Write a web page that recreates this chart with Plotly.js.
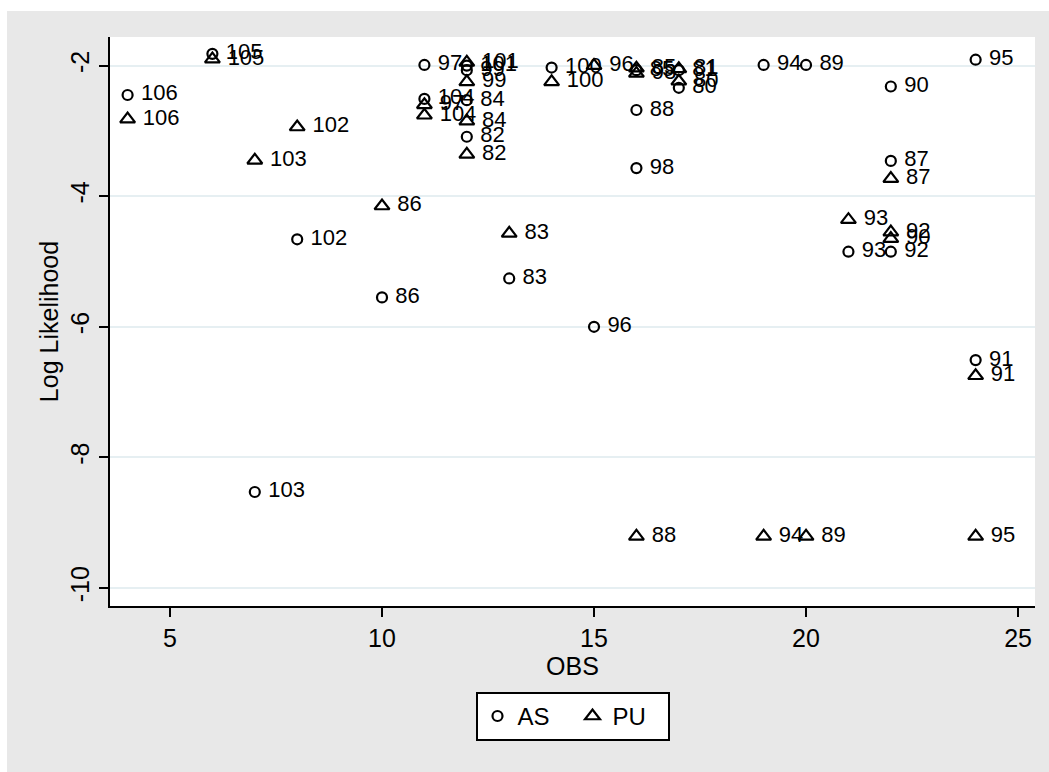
<!DOCTYPE html>
<html>
<head>
<meta charset="utf-8">
<script src="https://cdn.plot.ly/plotly-3.0.1.min.js"></script>
<style>
html,body{margin:0;padding:0;background:#ffffff;overflow:hidden;width:1049px;height:772px;}
#bg{position:absolute;left:7px;top:11px;width:1100px;height:820px;background:#e8e8e8;}
#chart{position:absolute;left:7px;top:11px;width:1041px;height:761px;}
</style>
</head>
<body>
<div id="bg"></div>
<div id="chart"></div>
<script>
// Year labels (observation id)
var years = [80,81,82,83,84,85,86,87,88,89,90,91,92,93,94,95,96,97,98,99,100,101,102,103,104,105,106];
// OBS (x) for each year
var obs = [17,17,12,13,12,16,10,22,16,20,22,24,22,21,19,24,15,11,16,12,14,12,8,7,11,6,4];
// AS log likelihood
var asLL = [-2.34,-2.07,-3.09,-5.26,-2.53,-2.07,-5.55,-3.46,-2.68,-1.99,-2.32,-6.51,-4.85,-4.85,-1.99,-1.91,-6.00,-1.99,-3.57,-2.07,-2.03,-2.00,-4.66,-8.53,-2.51,-1.82,-2.45];
// PU log likelihood
var puLL = [-2.24,-2.05,-3.36,-4.57,-2.85,-2.04,-4.15,-3.73,-9.21,-9.21,-4.65,-6.75,-4.55,-4.36,-9.21,-9.21,-2.00,-2.60,-2.12,-2.25,-2.25,-1.95,-2.94,-3.45,-2.76,-1.90,-2.82];
// Axis ticks
var xTicks = [5,10,15,20,25];
var yTicks = [-10,-8,-6,-4,-2];

var FONT = "Liberation Sans, Arial, sans-serif";
var labels = years.map(function(y){ return " " + y; });

var traceAS = {
  type: "scatter", mode: "markers+text", name: "AS",
  x: obs, y: asLL, text: labels, textposition: "middle right",
  textfont: {family: FONT, size: 22, color: "#000"},
  marker: {symbol: "circle-open", size: 10, color: "#000", line: {width: 2.2, color: "#000"}},
  cliponaxis: false, hoverinfo: "x+y+text"
};
var tracePU = {
  type: "scatter", mode: "markers+text", name: "PU",
  x: obs, y: puLL, text: labels, textposition: "middle right",
  textfont: {family: FONT, size: 22, color: "#000"},
  marker: {symbol: "triangle-up-open", size: 13, color: "#000", line: {width: 2.2, color: "#000"}},
  cliponaxis: false, hoverinfo: "x+y+text"
};

var layout = {
  width: 1041, height: 761,
  paper_bgcolor: "#e8e8e8", plot_bgcolor: "#ffffff",
  margin: {l: 103, r: 13, t: 26, b: 166},
  font: {family: FONT, size: 25, color: "#000"},
  showlegend: true,
  xaxis: {
    range: [3.585, 25.40], tickvals: xTicks, ticktext: xTicks.map(String),
    showgrid: false, zeroline: false,
    showline: true, linecolor: "#000", linewidth: 2,
    ticks: "outside", ticklen: 9, tickwidth: 2, tickcolor: "#000",
    tickfont: {family: FONT, size: 25, color: "#000"},
    title: {text: "OBS", font: {family: FONT, size: 25, color: "#000"}, standoff: 0}
  },
  yaxis: {
    range: [-10.276, -1.562], tickvals: yTicks, ticktext: yTicks.map(String),
    showgrid: true, gridcolor: "#e6eff2", gridwidth: 2, zeroline: false,
    showline: true, linecolor: "#000", linewidth: 2,
    ticks: "outside", ticklen: 9, tickwidth: 2, tickcolor: "#000",
    tickangle: -90,
    tickfont: {family: FONT, size: 25, color: "#000"},
    title: {text: "Log Likelihood", font: {family: FONT, size: 25, color: "#000"}, standoff: 0}
  },
  legend: {
    orientation: "h", x: 0.5, xanchor: "center", y: -0.151, yanchor: "top",
    bgcolor: "#ffffff", bordercolor: "#000", borderwidth: 2,
    font: {family: FONT, size: 24, color: "#000"},
    entrywidth: 50, entrywidthmode: "pixels"
  }
};

Plotly.newPlot("chart", [traceAS, tracePU], layout, {displayModeBar: false, staticPlot: true});
</script>
</body>
</html>
